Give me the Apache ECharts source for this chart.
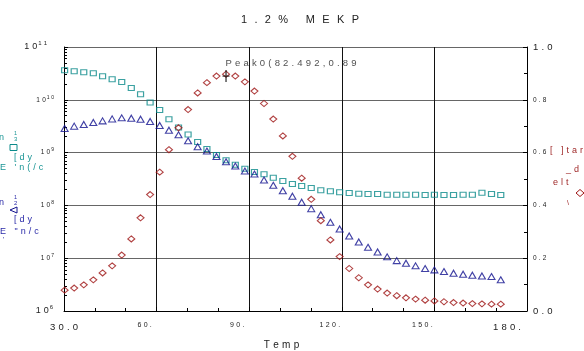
<!DOCTYPE html>
<html><head><meta charset="utf-8">
<script src="https://cdn.jsdelivr.net/npm/echarts@6/dist/echarts.min.js"></script>
<style>html,body{margin:0;padding:0;background:#fff}#c{width:584px;height:351px}</style>
</head><body><div id="c"></div>
<script>
// ---- data ----
const titleText = '1.2% MEKP';
const xName = 'Temp';
const temps = [30.2, 33.3, 36.4, 39.5, 42.5, 45.6, 48.7, 51.8, 54.8, 57.9, 61.0, 64.0, 67.1, 70.2, 73.3, 76.3, 79.4, 82.5, 85.5, 88.6, 91.7, 94.8, 97.8, 100.9, 104.0, 107.0, 110.1, 113.2, 116.3, 119.3, 122.4, 125.5, 128.5, 131.6, 134.7, 137.8, 140.8, 143.9, 147.0, 150.0, 153.1, 156.2, 159.3, 162.3, 165.4, 168.5, 171.5];
const eStorage = [3.63e10, 3.47e10, 3.33e10, 3.18e10, 2.79e10, 2.45e10, 2.18e10, 1.68e10, 1.28e10, 8.9e9, 6.4e9, 4.3e9, 3.0e9, 2.21e9, 1.58e9, 1.17e9, 8.97e8, 7.13e8, 5.88e8, 4.94e8, 4.28e8, 3.87e8, 3.34e8, 2.89e8, 2.54e8, 2.33e8, 2.13e8, 1.93e8, 1.85e8, 1.77e8, 1.72e8, 1.66e8, 1.64e8, 1.64e8, 1.59e8, 1.59e8, 1.59e8, 1.59e8, 1.58e8, 1.59e8, 1.58e8, 1.58e8, 1.59e8, 1.59e8, 1.73e8, 1.64e8, 1.58e8];
const eLoss = [2.87e9, 3.17e9, 3.41e9, 3.72e9, 3.99e9, 4.35e9, 4.55e9, 4.49e9, 4.30e9, 3.89e9, 3.27e9, 2.66e9, 2.17e9, 1.67e9, 1.29e9, 1.07e9, 8.47e8, 6.70e8, 5.56e8, 4.47e8, 3.93e8, 3.02e8, 2.40e8, 1.90e8, 1.49e8, 1.15e8, 8.68e7, 6.67e7, 4.79e7, 3.58e7, 2.64e7, 2.03e7, 1.61e7, 1.31e7, 1.06e7, 9.0e6, 8.04e6, 7.16e6, 6.36e6, 6.01e6, 5.58e6, 5.20e6, 4.98e6, 4.77e6, 4.62e6, 4.49e6, 3.89e6];
const tanDelta = [0.079, 0.087, 0.099, 0.118, 0.144, 0.171, 0.212, 0.273, 0.353, 0.441, 0.526, 0.611, 0.694, 0.763, 0.826, 0.865, 0.890, 0.897, 0.890, 0.868, 0.833, 0.786, 0.727, 0.663, 0.586, 0.503, 0.423, 0.342, 0.269, 0.206, 0.161, 0.126, 0.099, 0.083, 0.068, 0.058, 0.050, 0.045, 0.041, 0.038, 0.035, 0.032, 0.030, 0.028, 0.027, 0.026, 0.026];
const xTicks = [30, 60, 90, 120, 150, 180];
const xTickLabels = ['30.0', '60.', '90.', '120.', '150.', '180.'];
const leftExps = [6, 7, 8, 9, 10, 11];
const rightTicks = [0, 0.2, 0.4, 0.6, 0.8, 1.0];
const rightTickLabels = ['0.0', '0.2', '0.4', '0.6', '0.8', '1.0'];
const peakPoint = [82.492, 0.89];
const peakLabel = 'Peak0(82.492,0.89';

// ---- helpers ----
const G = '\u2004';
const sp = (s, g) => Array.from(s).join(g === undefined ? G : g);
const FF = '"Liberation Sans", Arial, sans-serif';
const TEAL = '#0a8a8a', BLUE = '#12128e', RED = '#9e1414';
const cTEAL = '#1a9595', cBLUE = '#2a2aa8', cRED = '#a02a2a';

const chart = echarts.init(document.getElementById('c'));

function txt(text, x, y, color, size, align) {
  return {type: 'text', x: x, y: y, z: 10, style: {text: text, fill: color, font: size + 'px ' + FF, textAlign: align || 'left', textVerticalAlign: 'middle'}};
}

const graphics = [
  // teal legend
  txt('n', -1, 138, cTEAL, 9),
  txt('1', 14, 133, cTEAL, 5.5),
  txt('3', 14, 139, cTEAL, 6),
  {type: 'rect', z: 10, shape: {x: 10, y: 144.5, width: 7, height: 6}, style: {fill: 'none', stroke: TEAL, lineWidth: 1}},
  txt(sp('[dy'), 14, 158, cTEAL, 9),
  txt(sp("E 'n(/c"), 0, 168, cTEAL, 9),
  // blue legend
  txt('n', -1, 203, cBLUE, 9),
  txt('1', 14, 197, cBLUE, 5.5),
  txt('2', 14, 203, cBLUE, 6),
  {type: 'polygon', z: 10, shape: {points: [[10, 210], [17, 207], [17, 213]]}, style: {fill: 'none', stroke: BLUE, lineWidth: 1}},
  txt(sp('[dy'), 14, 220, cBLUE, 9),
  txt(sp('E "n/c'), 0, 232, cBLUE, 9),
  txt("'", 3, 240, cBLUE, 7),
  // red legend
  txt(sp('[ ]tar'), 550, 151, cRED, 9),
  txt(sp('_d'), 566, 170, cRED, 9),
  txt(sp('elt'), 553, 183, cRED, 9),
  {type: 'polygon', z: 10, shape: {points: [[576, 193], [580, 189.5], [584, 193], [580, 196.5]]}, style: {fill: 'none', stroke: RED, lineWidth: 1}},
  txt('\\', 567, 203, cRED, 7)
];

const option = {
  animation: false,
  backgroundColor: '#fff',
  title: {
    text: sp(titleText, '\u2002\u2006'), left: 295, top: 9, textAlign: 'center',
    textStyle: {fontFamily: FF, fontSize: 11, fontWeight: 'normal', color: '#222'}
  },
  grid: {left: 64, right: 57, top: 47, bottom: 40, containLabel: false, outerBoundsMode: 'none'},
  xAxis: {
    type: 'value', min: 30, max: 180, interval: 30,
    name: sp(xName), nameLocation: 'middle', nameGap: 29,
    nameTextStyle: {fontFamily: FF, fontSize: 10, color: '#222', padding: [0, 28, 0, 0]},
    axisLine: {show: true, onZero: false, lineStyle: {color: '#000', width: 1}},
    axisTick: {show: true, inside: true, length: 4, lineStyle: {color: '#000'}},
    minorTick: {show: true, splitNumber: 3, length: 3, lineStyle: {color: '#000'}},
    splitLine: {show: true, lineStyle: {color: '#111', width: 1}},
    axisLabel: {
      margin: 8, align: 'center',
      formatter: function (v) {
        const i = xTicks.indexOf(v);
        const l = sp(xTickLabels[i]);
        if (i === 0) return '{b|' + l + '}';
        if (i === xTicks.length - 1) return '{e|' + l + '}{h|}';
        return '{s|' + l + '}{g|}';
      },
      rich: {
        b: {fontFamily: FF, fontSize: 9.5, color: '#222', padding: [3, 0, 0, 0]},
        e: {fontFamily: FF, fontSize: 9.5, color: '#222', padding: [3, 0, 0, 0], width: 30, align: 'right'},
        s: {fontFamily: FF, fontSize: 7, color: '#222', width: 24, align: 'right'},
        g: {width: 24},
        h: {width: 40}
      }
    }
  },
  yAxis: [{
    type: 'log', logBase: 10, min: 1e6, max: 1e11, splitNumber: 5,
    axisLine: {show: true, lineStyle: {color: '#000'}},
    axisTick: {show: true, inside: true, length: 4, lineStyle: {color: '#000'}},
    minorTick: {show: true, splitNumber: 9, length: 3, lineStyle: {color: '#000'}},
    splitLine: {show: true, lineStyle: {color: '#666', width: 1}},
    axisLabel: {
      margin: 10,
      formatter: function (v) {
        const e = Math.round(Math.log10(v));
        if (leftExps.indexOf(e) < 0) return '';
        const big = (e === leftExps[0] || e === leftExps[leftExps.length - 1]);
        if (e === leftExps[leftExps.length - 1]) return '{b|' + sp('10') + '}{bt|' + sp(String(e)) + '}';
        return big ? '{b|' + sp('10') + '}{bs|' + sp(String(e)) + '}' : '{s|' + sp('10') + '}{ss|' + sp(String(e)) + '}';
      },
      rich: {
        b: {fontFamily: FF, fontSize: 9, color: '#222'},
        bs: {fontFamily: FF, fontSize: 6, color: '#222', padding: [0, 1, 8, 1]},
        bt: {fontFamily: FF, fontSize: 6, color: '#222', padding: [0, 7, 8, 1]},
        s: {fontFamily: FF, fontSize: 6.5, color: '#222'},
        ss: {fontFamily: FF, fontSize: 5, color: '#222', padding: [0, 0, 5, 1]}
      }
    }
  }, {
    type: 'value', min: 0, max: 1, interval: 0.2, position: 'right',
    axisLine: {show: true, lineStyle: {color: '#000'}},
    axisTick: {show: true, inside: true, length: 4, lineStyle: {color: '#000'}},
    minorTick: {show: true, splitNumber: 2, length: 3, lineStyle: {color: '#000'}},
    splitLine: {show: false},
    axisLabel: {
      margin: 6,
      formatter: function (v) {
        let i = -1;
        rightTicks.forEach((t, k) => { if (Math.abs(t - v) < 1e-6) i = k; });
        if (i < 0) return '';
        const l = sp(rightTickLabels[i]);
        return (i === 0 || i === rightTicks.length - 1) ? '{b|' + l + '}' : '{s|' + l + '}';
      },
      rich: {
        b: {fontFamily: FF, fontSize: 9.5, color: '#222'},
        s: {fontFamily: FF, fontSize: 6.5, color: '#222'}
      }
    }
  }],
  graphic: graphics,
  series: [{
    type: 'scatter', yAxisIndex: 0, symbol: 'rect', symbolSize: [6, 5],
    itemStyle: {color: 'rgba(0,0,0,0)', borderColor: TEAL, borderWidth: 1.1},
    data: temps.map((t, i) => [t, eStorage[i]])
  }, {
    type: 'scatter', yAxisIndex: 0, symbol: 'triangle', symbolSize: [7, 6],
    itemStyle: {color: 'rgba(0,0,0,0)', borderColor: BLUE, borderWidth: 1.1},
    data: temps.map((t, i) => [t, eLoss[i]])
  }, {
    type: 'scatter', yAxisIndex: 1, symbol: 'diamond', symbolSize: [7, 6],
    itemStyle: {color: 'rgba(0,0,0,0)', borderColor: RED, borderWidth: 1.1},
    data: temps.map((t, i) => [t, tanDelta[i]])
  }, {
    type: 'scatter', yAxisIndex: 1, z: 5,
    symbol: 'path://M2.5,0h1.2v12h-1.2zM0,5.4h6.2v1.2h-6.2z', symbolSize: [7, 12],
    itemStyle: {color: '#111'},
    label: {
      show: true, position: [3, -12], align: 'left', verticalAlign: 'top',
      formatter: sp(peakLabel), fontFamily: FF, fontSize: 9.5, color: '#222'
    },
    data: [peakPoint]
  }]
};
chart.setOption(option);
</script>
</body></html>
